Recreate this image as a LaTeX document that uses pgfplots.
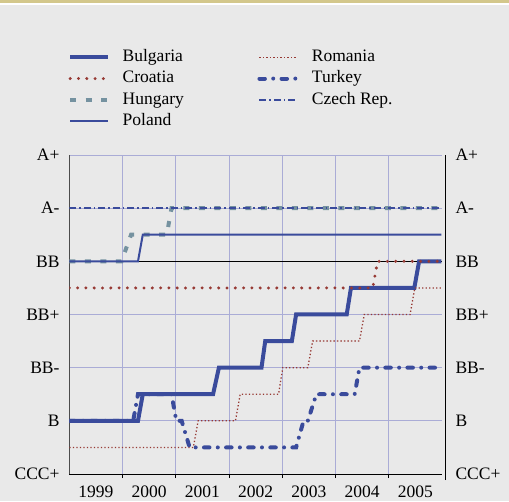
\documentclass[border=0pt]{standalone}
\usepackage{fontspec}
\setmainfont{Liberation Serif}
\usepackage{pgfplots}
\pgfplotsset{compat=1.18}
\definecolor{bg}{HTML}{E9E9E9}
\definecolor{gold}{HTML}{D3C78B}
\definecolor{rblue}{HTML}{3A4B9C}
\definecolor{rred}{HTML}{973A34}
\definecolor{rgrey}{HTML}{7592A0}
\definecolor{gridc}{HTML}{AAACD6}
\tikzset{
 bul/.style={rblue, line width=4pt},
 cro/.style={rred, line width=3.3pt, line cap=round, dash pattern=on 0pt off 8.3pt},
 hun/.style={rgrey, line width=4pt, dash pattern=on 6pt off 9.5pt},
 pol/.style={rblue, line width=2pt},
 rom/.style={rred, line width=1.3pt, dash pattern=on 1.3pt off 2.2pt},
 tur/.style={rblue, line width=4pt, line cap=round, dash pattern=on 5.5pt off 8.3pt on 0pt off 8.3pt},
 cze/.style={rblue, line width=1.8pt, dash pattern=on 7pt off 3pt on 1.5pt off 3pt},
}
\begin{document}
\begin{tikzpicture}[font=\fontsize{17.5}{21}\selectfont]
\fill[bg] (0pt,0pt) rectangle (509pt,501pt);
\fill[white] (0pt,496pt) rectangle (509pt,498pt);
\fill[gold] (0pt,498pt) rectangle (509pt,501pt);
\begin{axis}[at={(69.3pt,27pt)}, anchor=south west, scale only axis,
 width=372.7pt, height=319pt,
 xmin=0, xmax=7, ymin=0, ymax=12,
 axis x line*=bottom, axis y line*=left,
 x axis line style={-, black, line width=1pt},
 y axis line style={-, black!70, line width=1.2pt},
 xtick={0.5,1.5,2.5,3.5,4.5,5.5,6.5},
 xticklabels={1999,2000,2001,2002,2003,2004,2005},
 xticklabel style={yshift=-4pt},
 yticklabel style={xshift=-2pt},
 major x tick style={draw=none},
 minor xtick={1,2,3,4,5,6},
 xminorgrids,
 minor x grid style={gridc, line width=0.8pt},
 tick align=outside,
 minor tick length=4pt,
 minor x tick style={black, line width=0.8pt},
 extra x ticks={0,7}, extra x tick labels={},
 extra x tick style={grid=none, major tick length=4pt, major x tick style={black, line width=0.8pt}},
 ytick={0,2,4,6,8,10,12},
 yticklabels={CCC+,B,BB-,BB+,BB,A-,A+},
 ytick style={draw=none},
 ymajorgrids,
 major grid style={gridc, line width=0.8pt},
 legend columns=2,
 legend cell align=left,
 legend image code/.code={\draw[#1] (0pt,0pt) -- (38pt,0pt);},
 legend style={at={(-0.0035,1.3376)}, anchor=north west, draw=none, fill=none,
   inner sep=0pt, row sep=1.8pt,
   nodes={inner sep=1.5pt, text height=12.5pt, text depth=4pt},
   /tikz/every odd column/.append style={column sep=11pt},
   /tikz/every even column/.append style={column sep=72pt}},
]
\addlegendimage{bul}\addlegendentry{Bulgaria}
\addlegendimage{rom}\addlegendentry{Romania}
\addlegendimage{cro}\addlegendentry{Croatia}
\addlegendimage{tur}\addlegendentry{Turkey}
\addlegendimage{hun}\addlegendentry{Hungary}
\addlegendimage{cze}\addlegendentry{Czech Rep.}
\addlegendimage{pol}\addlegendentry{Poland}

\addplot[black, line width=0.9pt, forget plot] coordinates {(0,8) (7,8)};

\addplot[bul, forget plot] coordinates {(0,2) (1.29,2) (1.38,3) (2.70,3) (2.81,4) (3.61,4) (3.68,5) (4.18,5) (4.26,6) (5.21,6) (5.29,7) (6.48,7) (6.57,8) (6.99,8)};
\addplot[cro, forget plot] coordinates {(0,7) (5.70,7) (5.79,8) (6.99,8)};
\addplot[hun, forget plot] coordinates {(0,8) (0.98,8) (1.16,9) (1.83,9) (1.92,10) (6.99,10)};
\addplot[pol, forget plot] coordinates {(0,8) (1.29,8) (1.38,9) (6.99,9)};
\addplot[rom, forget plot] coordinates {(0,1) (2.33,1) (2.42,2) (3.12,2) (3.21,3) (3.93,3) (4.01,4) (4.48,4) (4.57,5) (5.45,5) (5.54,6) (6.40,6) (6.49,7) (6.99,7)};
\addplot[tur, forget plot] coordinates {(0,2) (1.20,2) (1.29,3) (1.92,3) (2.01,2) (2.11,2) (2.26,1) (4.26,1) (4.40,2) (4.48,2) (4.64,3) (5.36,3) (5.45,4) (6.99,4)};
\addplot[cze, forget plot] coordinates {(0,10) (6.99,10)};
\end{axis}
\begin{axis}[at={(69.3pt,27pt)}, anchor=south west, scale only axis,
 width=375.7pt, height=319pt,
 xmin=0, xmax=7, ymin=0, ymax=12,
 axis x line=none, axis y line*=right,
 y axis line style={-, black, line width=1pt, shorten <=-6pt},
 ytick={0,2,4,6,8,10,12},
 yticklabels={CCC+,B,BB-,BB+,BB,A-,A+},
 yticklabel style={xshift=7pt},
 ytick style={draw=none},
]
\end{axis}
\end{tikzpicture}
\end{document}
